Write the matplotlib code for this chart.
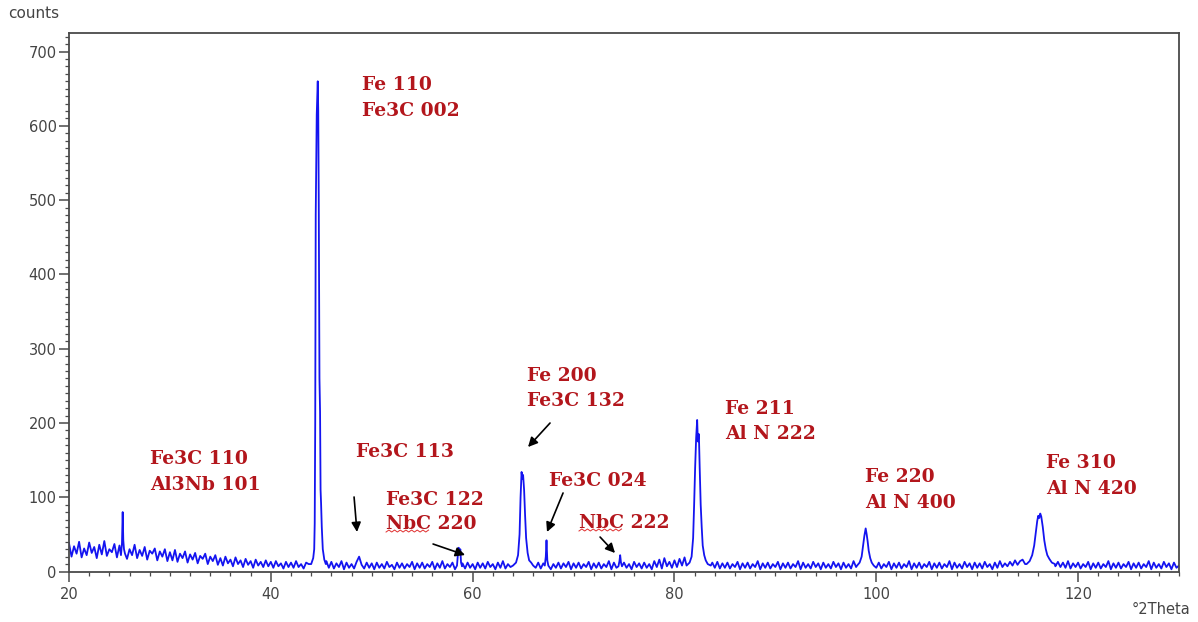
import numpy as np
import matplotlib
matplotlib.use("Agg")
import matplotlib.pyplot as plt

# ---------------- data ----------------
bg_start, bg_step = 20.0, 0.25
bg_counts = [
    38, 20, 34, 24, 40, 19, 31, 22, 39, 25, 33, 18, 36, 23, 41, 21, 30, 26, 37, 19,
    35, 20, 32, 17, 30, 22, 36, 18, 29, 21, 33, 16, 28, 24, 31, 15, 27, 20, 30, 14,
    26, 15, 29, 13, 24, 18, 27, 12, 23, 16, 25, 11, 21, 17, 24, 10, 20, 14, 22, 9,
    18, 8, 20, 11, 16, 7, 19, 10, 15, 6, 17, 9, 14, 5, 16, 8, 13, 6, 15, 7,
    13, 5, 14, 7, 11, 4, 13, 6, 12, 5, 14, 6, 10, 4, 12, 10, 12, 15, 20, 30,
    60, 30, 14, 5, 13, 4, 11, 6, 14, 3, 12, 5, 10, 4, 13, 20, 9, 4, 12, 5,
    11, 3, 12, 5, 10, 4, 13, 6, 9, 3, 12, 5, 11, 4, 10, 6, 13, 3, 11, 5,
    12, 4, 10, 6, 13, 3, 11, 5, 14, 4, 10, 6, 12, 3, 20, 25, 11, 4, 12, 5,
    10, 3, 12, 5, 11, 4, 13, 6, 10, 3, 12, 5, 14, 4, 10, 6, 13, 15, 40, 100,
    120, 60, 20, 8, 14, 5, 12, 4, 11, 6, 13, 3, 10, 5, 12, 4, 11, 6, 13, 3,
    11, 5, 12, 4, 10, 6, 13, 3, 11, 5, 12, 4, 10, 6, 14, 3, 12, 5, 10, 4,
    12, 5, 10, 3, 13, 6, 11, 4, 12, 5, 10, 3, 14, 6, 16, 4, 18, 7, 13, 5,
    15, 6, 17, 8, 19, 9, 16, 20, 50, 120, 190, 150, 80, 30, 15, 12, 5, 13, 4, 11,
    5, 12, 4, 10, 6, 13, 3, 11, 5, 12, 4, 10, 6, 14, 3, 11, 5, 12, 4, 10,
    6, 13, 3, 11, 5, 12, 4, 10, 6, 14, 3, 12, 5, 10, 4, 13, 6, 11, 3, 12,
    5, 10, 4, 13, 6, 11, 3, 12, 5, 10, 4, 14, 6, 20, 40, 50, 25, 12, 4, 11,
    5, 12, 4, 10, 6, 13, 3, 11, 5, 12, 4, 10, 6, 14, 3, 11, 5, 12, 4, 10,
    6, 13, 3, 11, 5, 12, 4, 10, 6, 14, 3, 12, 5, 10, 4, 13, 6, 11, 3, 12,
    5, 11, 4, 13, 6, 10, 3, 12, 5, 14, 6, 11, 7, 13, 8, 15, 9, 14, 16, 10,
    13, 20, 40, 65, 75, 72, 50, 30, 18, 15, 14, 7, 13, 6, 12, 5, 14, 4, 11, 6,
    12, 4, 10, 6, 13, 3, 11, 5, 12, 4, 10, 6, 14, 3, 11, 5, 12, 4, 10, 6,
    13, 3, 11, 5, 12, 4, 10, 6, 14, 3, 12, 5, 10, 4, 13, 6, 11, 3, 12, 5,
    8,
]

# peak profiles (2theta, counts)
peak_theta = [
    [25.15, 25.25, 25.32, 25.38, 25.45, 25.55],
    [44.0, 44.2, 44.3, 44.35, 44.4, 44.45, 44.55, 44.65, 44.7, 44.75, 44.82, 44.88,
     44.93, 44.98, 45.05, 45.15, 45.3, 45.45],
    [58.45, 58.55, 58.62, 58.7, 58.78, 58.85, 58.95],
    [64.0, 64.3, 64.5, 64.65, 64.75, 64.85, 64.92, 65.0, 65.1, 65.2, 65.3, 65.45,
     65.6, 65.8, 66.0],
    [67.15, 67.25, 67.32, 67.4, 67.5],
    [74.45, 74.55, 74.62, 74.7, 74.8],
    [81.2, 81.5, 81.7, 81.85, 81.95, 82.05, 82.15, 82.25, 82.32, 82.42, 82.5, 82.6,
     82.7, 82.8, 82.95, 83.1, 83.3, 83.6],
    [98.1, 98.35, 98.55, 98.7, 98.82, 98.95, 99.05, 99.15, 99.25, 99.4, 99.55, 99.75],
    [114.9, 115.2, 115.45, 115.65, 115.8, 115.95, 116.05, 116.15, 116.25, 116.35,
     116.5, 116.65, 116.8, 116.95, 117.15, 117.4, 117.7],
]
peak_counts = [
    [22, 38, 80, 42, 30, 24],
    [10, 18, 30, 65, 200, 480, 615, 660, 620, 500, 260, 215, 110, 92, 60, 30, 16, 10],
    [8, 25, 32, 24, 30, 12, 7],
    [8, 12, 22, 50, 100, 134, 125, 130, 110, 75, 45, 25, 15, 12, 8],
    [8, 20, 42, 15, 8],
    [7, 14, 22, 12, 7],
    [8, 12, 20, 45, 90, 140, 180, 204, 175, 185, 140, 90, 60, 35, 22, 15, 10, 8],
    [8, 12, 20, 35, 48, 58, 50, 40, 28, 18, 12, 8],
    [10, 14, 22, 35, 52, 68, 75, 72, 78, 74, 60, 42, 30, 22, 17, 12, 10],
]

labels = [
    "Fe 110", "Fe3C 002", "Fe3C 110", "Al3Nb 101", "Fe3C 113", "Fe3C 122", "NbC 220",
    "Fe 200", "Fe3C 132", "Fe3C 024", "NbC 222", "Fe 211", "Al N 222",
    "Fe 220", "Al N 400", "Fe 310", "Al N 420",
]
label_x = [49.04, 49.04, 28.03, 28.03, 48.44, 51.42, 51.42, 65.39, 65.39, 67.57, 70.54,
           85.01, 85.01, 98.89, 98.89, 116.83, 116.83]
label_y = [654.8, 619.8, 151.4, 116.4, 160.9, 96.2, 63.9, 263.2, 229.5, 121.8, 65.3,
           218.7, 185.1, 127.2, 92.2, 146.1, 111.0]

arrow_from = [(48.25, 100.3), (56.08, 37.0), (67.67, 199.9), (68.96, 105.7), (72.63, 46.4)]
arrow_to = [(48.54, 53.2), (59.25, 22.2), (65.49, 167.6), (67.37, 53.2), (74.11, 24.9)]

# ---------------- build series ----------------
bg_theta = bg_start + bg_step * np.arange(len(bg_counts))
bg_counts_arr = np.array(bg_counts, dtype=float)
keep = np.ones(len(bg_theta), bool)
for pt in peak_theta:
    keep &= ~((bg_theta >= pt[0]) & (bg_theta <= pt[-1]))
x = np.concatenate([bg_theta[keep]] + [np.array(p) for p in peak_theta])
y = np.concatenate([bg_counts_arr[keep]] + [np.array(p, float) for p in peak_counts])
order = np.argsort(x)
x, y = x[order], y[order]

# ---------------- figure ----------------
W, H = 1198, 622
fig = plt.figure(figsize=(W / 100, H / 100), dpi=100)
ax = fig.add_axes([69 / W, 1 - 571.5 / H, (1179 - 69) / W, (571.5 - 33) / H])
ax.plot(x, y, color="#1414F0", lw=1.3)
ax.set_xlim(20, 130)
ax.set_ylim(0, 725)

for s in ax.spines.values():
    s.set_color("#4a4a4a")
    s.set_linewidth(1.3)

ax.set_xticks(np.arange(20, 121, 20))
ax.set_xticks(np.arange(20, 131, 2), minor=True)
ax.set_yticks(np.arange(0, 701, 100))
ax.set_yticks(np.arange(0, 721, 10), minor=True)
ax.tick_params(axis="both", which="major", direction="out", length=7, width=1.1,
               color="#4a4a4a", labelcolor="#444444", labelsize=10.5)
ax.tick_params(axis="x", which="major", pad=4)
ax.tick_params(axis="y", which="major", pad=2)
ax.tick_params(axis="both", which="minor", direction="out", length=3, width=0.9,
               color="#4a4a4a")
for lab in ax.get_xticklabels() + ax.get_yticklabels():
    lab.set_family("DejaVu Sans")

fig.text(8 / W, 1 - 14 / H, "counts", fontsize=11, color="#444444",
         family="DejaVu Sans", va="center", ha="left")
fig.text(1190 / W, 1 - 610 / H, "°2Theta", fontsize=10.5, color="#444444",
         family="DejaVu Sans", va="center", ha="right")

red = "#B3161C"
for t, lx, ly in zip(labels, label_x, label_y):
    ax.text(lx, ly, t, color=red, fontsize=13.5, fontweight="bold",
            family="DejaVu Serif", va="center", ha="left")

for (x0, y0), (x1, y1) in zip(arrow_from, arrow_to):
    ax.annotate("", xy=(x1, y1), xytext=(x0, y0),
                arrowprops=dict(arrowstyle="-|>", color="black", lw=1.2,
                                mutation_scale=14, shrinkA=0, shrinkB=0))

# red wavy spell-check underline under "NbC"
fig.canvas.draw()
for t in ax.texts:
    if t.get_text().startswith("NbC"):
        bb = t.get_window_extent()
        wx = np.linspace(bb.x0, bb.x0 + bb.width * 0.47, 16)
        wy = bb.y0 + 1.0 + np.where(np.arange(16) % 2 == 0, 0.0, 2.0)
        fig.add_artist(plt.Line2D(wx / W, wy / H, color="#E03030", lw=0.7,
                                  transform=fig.transFigure))

fig.savefig("out.png", dpi=100)
